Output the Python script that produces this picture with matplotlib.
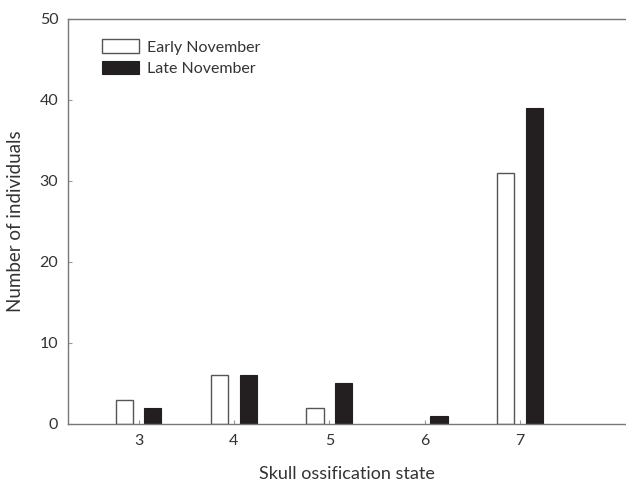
import numpy as np
import matplotlib.pyplot as plt

# data
states = [3, 4, 5, 6, 7]
early = [3, 6, 2, 0, 31]
late = [2, 6, 5, 1, 39]

plt.rcParams['font.family'] = ['Lato', 'DejaVu Sans']

fig = plt.figure(figsize=(6.26, 4.87), dpi=100)
ax = fig.add_axes([0.1086, 0.1294, 0.8914, 0.8316])

x = np.array(states, dtype=float)
w = 0.18
off = 0.15
# no outline for empty bars
early_edges = ['#555555' if v > 0 else 'none' for v in early]
ax.bar(x - off, early, width=w, color='white', edgecolor=early_edges, linewidth=1.0,
       label='Early November')
ax.bar(x + off, late, width=w, color='#231f20', edgecolor='#231f20', linewidth=0.8,
       label='Late November')

ax.set_xlim(2.26, 8.11)
ax.set_ylim(0, 50)
ax.set_xticks(states)
ax.set_yticks([0, 10, 20, 30, 40, 50])

for s in ['left', 'bottom', 'top']:
    ax.spines[s].set_color('#777777')
    ax.spines[s].set_linewidth(1.0)
ax.spines['right'].set_visible(False)

ax.tick_params(direction='in', length=3, width=0.8, color='#999999',
               labelsize=11.5, labelcolor='#333333', pad=7)

ax.set_xlabel('Skull ossification state', fontsize=13, color='#333333', labelpad=13)
ax.set_ylabel('Number of individuals', fontsize=13.5, color='#333333', labelpad=11)

leg = ax.legend(loc='upper left', bbox_to_anchor=(0.035, 0.985), frameon=False, fontsize=11.5,
                handlelength=2.3, handleheight=0.9, handletextpad=0.5,
                labelcolor='#333333', labelspacing=0.4)
leg.legend_handles[0].set_edgecolor('#555555')

fig.savefig('out.png', dpi=100)
